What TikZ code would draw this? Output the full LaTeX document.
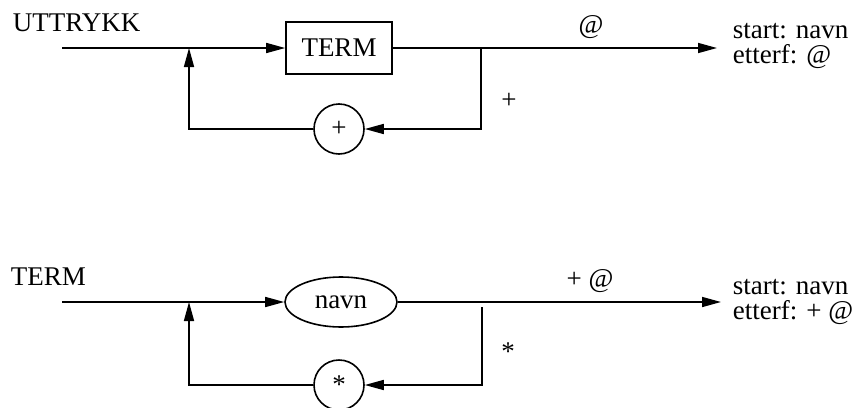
\documentclass[tikz,border=0pt]{standalone}
\usepackage{fontspec}
\setmainfont{Liberation Serif}
\usetikzlibrary{arrows.meta,shapes.geometric}
\begin{document}
\begin{tikzpicture}[x=1pt,y=-1pt,
  line width=1.6pt,
  arr/.style={-{Triangle[length=19pt,width=10pt]}},
  txt/.style={font=\fontsize{27}{25}\selectfont, inner sep=0pt},
  boxnode/.style={txt, draw, rectangle, minimum width=106pt, minimum height=52pt},
  ellnode/.style={txt, draw, ellipse, minimum width=112pt, minimum height=50pt},
  circnode/.style={txt, draw, circle, minimum size=50pt}]
\useasboundingbox (0,0) rectangle (854,407);

% ---------- UTTRYKK ----------
\node[txt, anchor=base west] (t1) at (12,31) {UTTRYKK};
\coordinate (s1) at (62,48);
\coordinate (j1) at (189,48);
\coordinate (k1) at (481,48);
\coordinate (e1) at (717,48);
\node[boxnode] (term) at (339,48) {TERM};
\node[circnode] (plus) at (339,129) {\raisebox{-4pt}{+}};
\draw[arr] (s1) -- (term);
\draw[arr] (term) -- (e1);
\draw[arr] (k1) |- (plus);
\draw[arr] (plus) -| (j1);
\node[txt, anchor=base] (at1) at (591,33) {@};
\node[txt] (pl1) at (509,101) {+};
\node[txt, anchor=base west] (st1) at (732,38) {start: navn};
\node[txt, anchor=base west] (et1) at (732,63) {etterf: @};

% ---------- TERM ----------
\node[txt, anchor=base west] (t2) at (10,285) {TERM};
\coordinate (s2) at (62,302);
\coordinate (j2) at (189,302);
\coordinate (k2) at (482,307);
\coordinate (e2) at (721,302);
\node[ellnode] (navn) at (341,302) {navn};
\node[circnode] (star) at (339,385) {\raisebox{-3.5pt}{*}};
\draw[arr] (s2) -- (navn);
\draw[arr] (navn) -- (e2);
\draw[arr] (k2) |- (star);
\draw[arr] (star) -| (j2);
\node[txt, anchor=base] (at2) at (590,287) {+ @};
\node[txt, anchor=base] (ast2) at (508,360) {*};
\node[txt, anchor=base west] (st2) at (732,294) {start: navn};
\node[txt, anchor=base west] (et2) at (732,319) {etterf: + @};
\end{tikzpicture}
\end{document}
